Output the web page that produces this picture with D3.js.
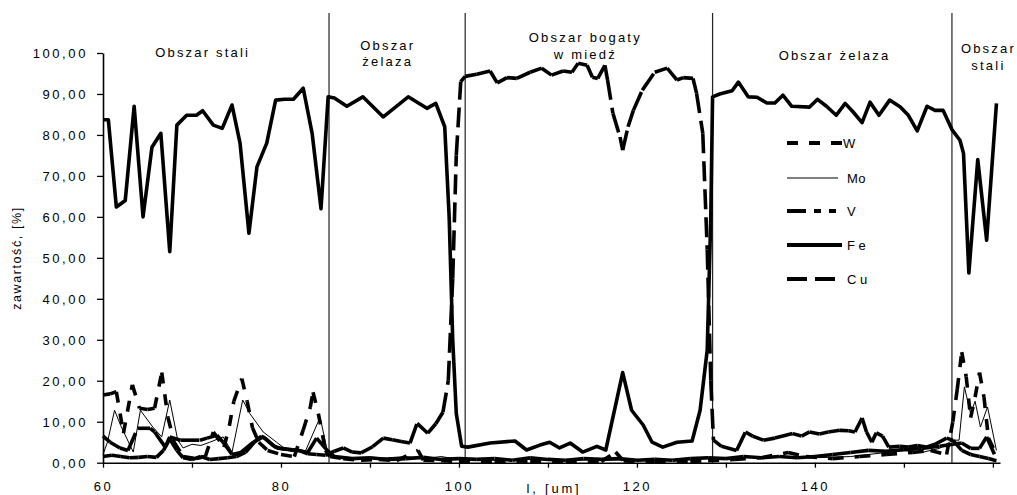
<!DOCTYPE html>
<html><head><meta charset="utf-8">
<script src="https://cdn.jsdelivr.net/npm/d3@7"></script>
<style>
html,body{margin:0;padding:0;background:#fff;}
svg{display:block;font-family:"Liberation Sans",Arial,sans-serif;}
</style></head>
<body>
<svg id="chart" width="1017" height="495"></svg>
<script>
// ---- data ----
const seriesNames = ["W", "Mo", "V", "Fe", "Cu"];
const yTicks = [0, 10, 20, 30, 40, 50, 60, 70, 80, 90, 100];
const xTicks = [60, 70, 80, 90, 100, 110, 120, 130, 140, 150, 160];
const xTickLabels = [60, 80, 100, 120, 140];
const regionBounds = [85.4, 100.7, 128.5, 155.4];
const regionLabels = [["Obszar stali"], ["Obszar", "żelaza"], ["Obszar bogaty", "w miedź"], ["Obszar żelaza"], ["Obszar", "stali"]];
const regionCenters = [71.2, 92.0, 114.2, 142.2, 159.5];

const fe = [[60,83.7],[60.6,83.7],[61.5,62.4],[62.5,64],[63.5,87],[64.5,60],[65.5,77],[66.5,80.4],[67.5,51.5],[68.3,82.4],[69.4,84.8],[70.5,84.8],[71.2,85.9],[72.4,82.4],[73.4,81.6],[74.5,87.3],[75.4,78],[76.4,56],[77.3,72.2],[78.4,78],[79.4,88.5],[80.4,88.7],[81.4,88.7],[82.5,91.4],[83.5,80.4],[84.5,62],[85.3,89.3],[86,89],[87.4,87],[89.2,89.3],[91.5,84.4],[94.3,89.3],[96.4,86.5],[97.4,87.7],[98.4,82],[98.9,60],[99.3,30],[99.7,12],[100.3,4],[101,3.8],[103.5,4.8],[106.3,5.3],[107.6,3.1],[109.1,4.3],[110.2,5],[111.3,3.6],[112.5,4.8],[113.9,2.6],[115.5,4],[116.5,3.1],[118.4,22],[119.4,12.8],[120.7,9.2],[121.7,5],[122.9,3.8],[124.5,5],[126.2,5.3],[127.1,12.8],[127.9,27.5],[128.3,60],[128.5,89.3],[129.3,90],[130.7,90.8],[131.4,92.9],[132.5,89.3],[133.5,89.2],[134.6,87.8],[135.5,87.8],[136.4,89.7],[137.4,87],[139.4,86.8],[140.3,88.7],[141.3,87],[142.4,84.8],[143.4,87.7],[144.3,85.6],[145.3,83],[146.2,88],[147.2,84.8],[148.4,88.5],[149.6,86.8],[150.5,84.8],[151.5,81],[152.6,87],[153.5,86],[154.4,86],[155.4,81.3],[156.3,78.7],[156.7,75.5],[157.3,46.3],[158.3,74],[159.3,54.3],[160.4,87.7]];

const cu = [[60,1.5],[61,1.8],[62,1.5],[63,1.2],[64,1.3],[65,1.5],[66,1.3],[66.8,3],[67.5,5.8],[68.3,3],[69,1.2],[70,0.8],[71,1.5],[72,0.8],[73,1],[74,1.2],[75,1.5],[76,2.5],[77,5],[77.8,6.5],[78.5,5.5],[79.2,4],[80,3.5],[81,3.2],[82,3],[83,2.2],[84,2],[85,1.8],[86,2.8],[87,3.6],[88,2.6],[89,2.4],[90.3,3.9],[91.5,6],[92.5,5.6],[93.5,5.2],[94.5,4.8],[95.3,9.6],[96.5,7.2],[97.4,9.5],[98.2,12.3],[98.8,20],[99.3,45],[99.7,75],[100.2,93],[100.7,94.3],[102,94.8],[103.5,95.6],[104.3,92.7],[105.4,94],[106.5,93.8],[108,95.3],[109.3,96.3],[110.4,94.6],[111.7,95.6],[112.7,95.3],[113.4,97.5],[114.4,97],[115,94.1],[115.6,93.8],[116.4,97],[116.7,93.4],[117.3,85.3],[118.1,79.5],[118.4,76.3],[119,82],[119.6,86],[120.6,90.9],[122,95.3],[123.4,96.3],[124.5,93.4],[125.2,94],[126.3,93.8],[126.7,90.2],[127.4,80.4],[127.9,52],[128.3,20],[128.6,5.5],[129.5,4],[131.2,3],[132.2,7.5],[133,6.5],[134.2,5.5],[135.5,6],[137.5,7.1],[138.5,6.5],[139.4,7.5],[140.5,7],[141.5,7.5],[142.8,7.9],[143.8,7.8],[144.5,7.5],[145.3,10.9],[145.8,7.5],[146.4,5],[146.9,7.3],[147.6,6.5],[148.3,3.8],[149.5,4],[150.5,3.8],[151.5,4.2],[152.5,3.8],[153.5,4.5],[154.8,6],[155.5,5.5],[156.5,3],[157.5,2],[158.5,1.5],[159.5,1],[160.4,0.5]];

const mo = [[60,2],[60.5,5],[61.3,12.8],[62,9],[63.4,2.6],[64.2,12.8],[65.6,8.7],[66.6,6.3],[67.5,15.3],[68.4,5.5],[69,3.6],[70,4.5],[71,4.2],[72,5],[73.5,6.3],[74.5,2.6],[75.7,15.3],[76.5,12],[78,7.5],[79.5,5],[80.7,3],[82.7,2.6],[84.4,11.1],[85.3,1.9],[86,1.2],[88,0.8],[90,1],[92,1.2],[94,1.5],[96,1],[98,1.5],[100,0.8],[104,0.6],[108,0.8],[112,0.5],[116,0.8],[120,0.6],[124,0.8],[128,1],[132,1.2],[136,1.5],[140,1.2],[144,1.5],[148,2.5],[150,3],[152,2.5],[154,3.5],[155.5,5.5],[156.2,5.5],[156.8,18.5],[157.5,12],[158,15],[158.6,8.7],[159.4,13.6],[160.4,3]];

const w = [[60,16.5],[60.8,16.8],[61.5,17.3],[62.3,7.2],[63.3,19],[64.1,13.3],[65,13],[65.8,13.3],[66.6,22],[67.3,11],[68,5],[69,1.5],[70.5,1],[71.5,1.5],[72.4,7.5],[73.6,3.8],[74.2,9],[74.7,15],[75.6,20.5],[76.2,15],[76.8,8.5],[77.5,5],[78.5,3],[80,2],[81.5,1.5],[82.5,8],[83.3,13.6],[83.6,17.2],[84.2,12],[85,3],[85.5,1.5],[87,1],[89,0.6],[91,0.8],[93,0.5],[95.4,3],[96,0.6],[98,0.5],[100,0.3],[104,0.2],[108,0.3],[112,0.2],[116,0.3],[117.6,2.6],[118.5,0.4],[122,0.2],[126,0.3],[128,0.5],[131,0.8],[134,1.2],[137,2.5],[139,1.5],[142,1],[145,1.5],[148,2],[151,2.5],[153,3],[154.8,2],[155.5,10],[156,18],[156.5,27],[157,21],[157.5,11],[158,16],[158.5,22],[159,16],[159.5,6],[160.4,2]];

const v = [[60,6.5],[60.8,5],[61.9,3.6],[62.8,3],[63.9,8.4],[65.3,8.4],[65.8,7.5],[67,3.8],[67.5,6.3],[68.7,5.5],[70.9,5.5],[71.7,6],[72.8,6.7],[73.5,5],[74.5,2],[75.5,2.5],[76.9,5],[78,6.3],[78.8,4.8],[79.5,3.6],[80.5,3.3],[82,3],[83,2.5],[84,6],[85.2,3],[86,1.5],[88,1],[90,1.2],[92,0.8],[94,1],[96,1.3],[98,0.8],[100,1],[102,0.8],[104,1],[106,0.6],[108,1.2],[110,0.8],[112,0.6],[114,1],[116,0.8],[118,1],[120,0.6],[122,0.8],[124,0.6],[126,1],[128,1.2],[130,1],[132,1.5],[134,1.2],[136,1.5],[138,1.2],[140,1.5],[142,2],[144,2.5],[146,3],[148,2.8],[150,3.2],[152,3.5],[154,4],[155.5,4.5],[156.5,4.8],[157.5,3.5],[158.5,3.5],[159.3,6.3],[160.4,1]];

// ---- styles ----
const seriesData = {W: w, Mo: mo, V: v, Fe: fe, Cu: cu};
const styles = {
  W:  {width: 3.6, dash: "11,11"},
  Mo: {width: 1,   dash: null},
  V:  {width: 3.6, dash: "19,8,7,8,7,8"},
  Fe: {width: 3.6, dash: null},
  Cu: {width: 3.6, dash: "20,8"}
};

const svg = d3.select("#chart");
svg.append("rect").attr("width", 1017).attr("height", 495).attr("fill", "#fff");

const x = d3.scaleLinear().domain([60, 160.8]).range([103, 1000]);
const y = d3.scaleLinear().domain([0, 100]).range([462.7, 53]);

const line = d3.line().x(d => x(d[0])).y(d => y(d[1]));

// region separators
svg.append("g").selectAll("line").data(regionBounds).join("line")
  .attr("x1", d => x(d)).attr("x2", d => x(d))
  .attr("y1", 13).attr("y2", y(0))
  .attr("stroke", "#222").attr("stroke-width", 1.2);

// series: dashed ones drawn segment by segment (dash pattern restarts per segment)
const gSeries = svg.append("g");
["Mo", "W", "V", "Cu", "Fe"].forEach(name => {
  const data = seriesData[name];
  const st = styles[name];
  if (st.dash) {
    const segs = d3.pairs(data);
    gSeries.append("g").selectAll("path").data(segs).join("path")
      .attr("d", d => line(d))
      .attr("fill", "none").attr("stroke", "#000")
      .attr("stroke-width", st.width)
      .attr("stroke-dasharray", st.dash)
      .attr("stroke-linecap", "butt");
  } else {
    gSeries.append("path").datum(data)
      .attr("d", line)
      .attr("fill", "none").attr("stroke", "#000")
      .attr("stroke-width", st.width)
      .attr("stroke-linejoin", "round");
  }
});

// axes
const fmt = d => d.toFixed(2).replace(".", ",");
const yAxis = svg.append("g").attr("transform", "translate(103,0)")
  .call(d3.axisLeft(y).tickValues(yTicks).tickFormat(fmt).tickSize(6).tickSizeOuter(0).tickPadding(9));
const xAxis = svg.append("g").attr("transform", `translate(0,${y(0)})`)
  .call(d3.axisBottom(x).tickValues(xTicks).tickFormat(d => xTickLabels.includes(d) ? d : "").tickSize(5).tickSizeOuter(0).tickPadding(14));

[yAxis, xAxis].forEach(g => {
  g.select(".domain").attr("stroke", "#000").attr("stroke-width", 1.6);
  g.selectAll(".tick line").attr("stroke", "#000").attr("stroke-width", 1.3);
  g.selectAll("text").attr("fill", "#000").style("font-size", "13px")
    .style("font-family", '"Liberation Sans",Arial,sans-serif').style("letter-spacing", "2.6px");
});
yAxis.selectAll("text").attr("dy", "0.35em");
xAxis.selectAll("text").attr("dy", "0.71em");

// axis titles
svg.append("text").attr("transform", "translate(21,258) rotate(-90)")
  .attr("text-anchor", "middle").style("font-size", "12.5px").style("letter-spacing", "1.6px")
  .text("zawartość, [%]");
svg.append("text").attr("x", 554).attr("y", 493)
  .attr("text-anchor", "middle").style("font-size", "13px").style("letter-spacing", "2.8px")
  .text("l, [um]");

// region labels
const regionBaselines = [[57], [50, 66], [42, 59], [60], [53, 70]];
const gReg = svg.append("g");
regionLabels.forEach((lines, i) => {
  lines.forEach((t, j) => {
    gReg.append("text").attr("x", x(regionCenters[i])).attr("y", regionBaselines[i][j])
      .attr("text-anchor", "middle").style("font-size", "13px").style("letter-spacing", "2.2px")
      .text(t);
  });
});

// legend
const legendY = [143, 178, 211, 245, 279];
const legendX2 = [843, 838, 836, 842, 835];
const gLeg = svg.append("g");
seriesNames.forEach((name, i) => {
  const st = styles[name];
  gLeg.append("path")
    .attr("d", `M787,${legendY[i]}H${legendX2[i]}`)
    .attr("fill", "none").attr("stroke", "#000")
    .attr("stroke-width", st.width === 1 ? 1 : 4)
    .attr("stroke-dasharray", st.dash);
  gLeg.append("text").attr("x", name === "W" ? 843 : 847).attr("y", legendY[i] + 4.5)
    .style("font-size", "13px").style("letter-spacing", name === "Fe" || name === "Cu" ? "3.5px" : "0.5px")
    .text(name);
});
</script>
</body></html>
